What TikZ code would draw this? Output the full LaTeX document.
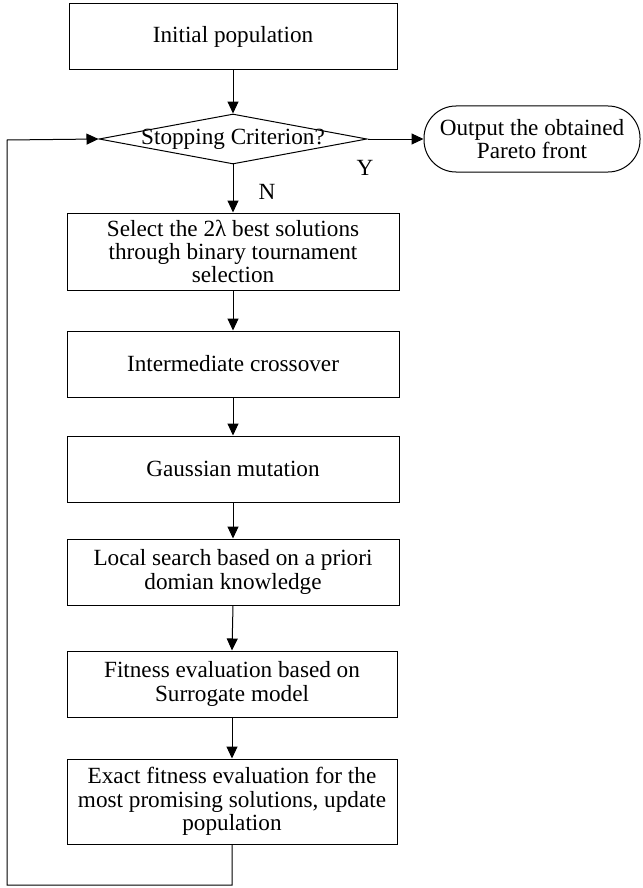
\documentclass[tikz,border=0pt]{standalone}
\usepackage{fontspec}
\setmainfont{Liberation Serif}
\usepackage{tikz}
\usetikzlibrary{arrows.meta,positioning,shapes.geometric}

\begin{document}
\begin{tikzpicture}[x=0.5pt,y=-0.5pt,
    font=\fontsize{11.6}{11.7}\selectfont,
    box/.style={draw,line width=0.5pt,minimum width=166pt,minimum height=33pt,
        inner sep=1pt,align=center},
    decision/.style={draw,line width=0.5pt,diamond,aspect=5.36,inner sep=0pt,
        minimum width=134pt,minimum height=25pt},
    terminal/.style={draw,line width=0.5pt,rounded corners=16pt,minimum width=108pt,
        minimum height=33pt,align=center,inner sep=1pt},
    flow/.style={line width=0.5pt,-{Triangle[length=6pt,width=5.5pt]}}]
    \useasboundingbox (0,0) rectangle (642,888);

    \node[box,minimum width=164pt] (init) at (233,37) {Initial population};
    \node[decision,label=center:{Stopping Criterion?}] (stop) at (233,139) {};
    \node[terminal] (out) at (532,139) {Output the obtained\\Pareto front};
    \node[box,minimum height=38.5pt] (sel) at (233,251.5)
        {Select the 2λ best solutions\\through binary tournament\\selection};
    \node[box] (cross) at (233,364) {Intermediate crossover};
    \node[box] (gauss) at (233,469) {Gaussian mutation};
    \node[box] (local) at (233,572) {Local search based on a priori\\domian knowledge};
    \node[box,minimum width=165pt] (fit) at (232,684) {Fitness evaluation based on\\Surrogate model};
    \node[box,minimum width=165pt,minimum height=42.5pt] (exact) at (232,801.5)
        {Exact fitness evaluation for the\\most promising solutions, update\\population};
    \node (yes) at (365,168) {Y};
    \node (no) at (267,192) {N};
    \coordinate (loopdown) at (232,885);
    \coordinate (loopleft) at (7,885);
    \coordinate (loopup) at (7,140);

    \draw[flow] (init) -- (stop);
    \draw[flow] (stop) -- (out);
    \draw[flow] (stop) -- (sel);
    \draw[flow] (sel) -- (cross);
    \draw[flow] (cross) -- (gauss);
    \draw[flow] (gauss) -- (local);
    \draw[flow] (local.south) -- (fit.north);
    \draw[flow] (fit) -- (exact);
    \draw[flow] (exact.south) -- (loopdown) -- (loopleft) -- (loopup) -- (stop.west);
\end{tikzpicture}
\end{document}
